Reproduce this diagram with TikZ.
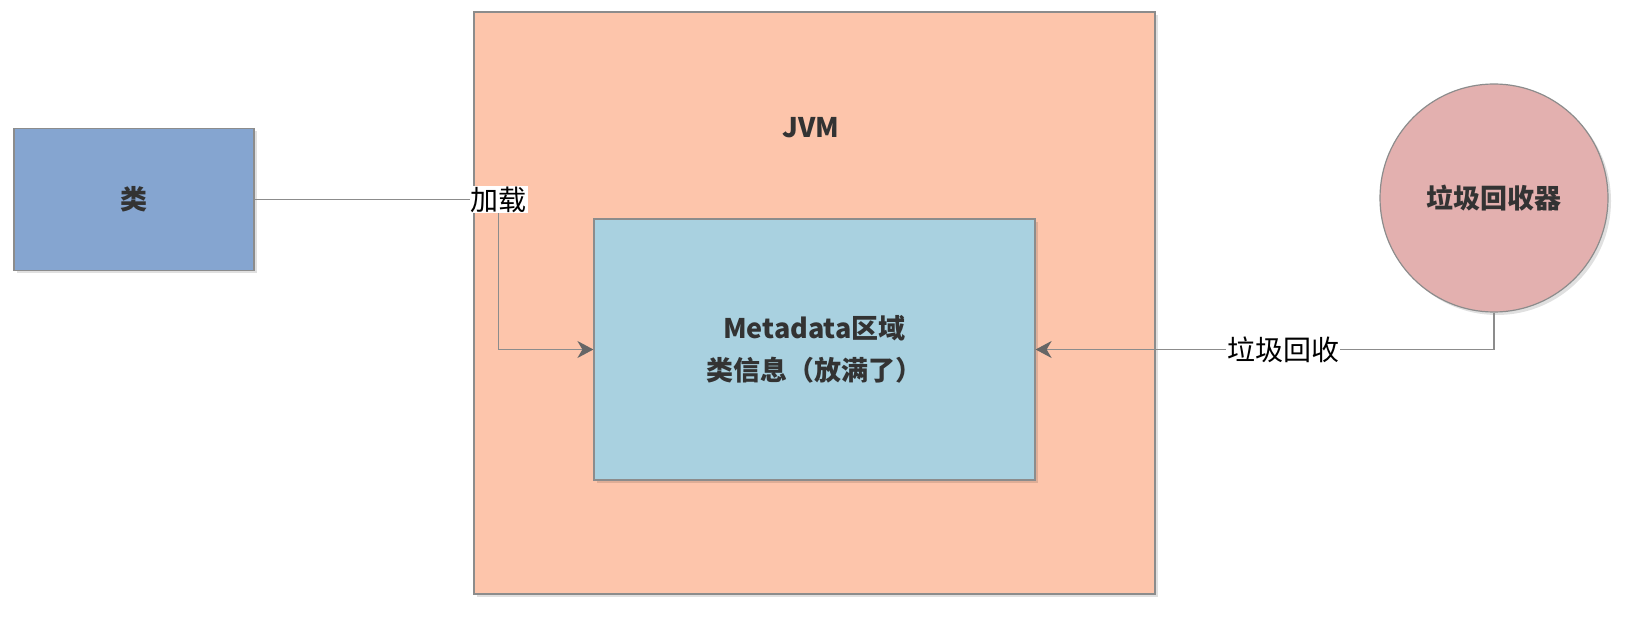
\documentclass[tikz,border=0pt]{standalone}
\usepackage{fontspec}
\setmainfont{Noto Sans CJK SC}
\usetikzlibrary{arrows.meta, positioning, shadows}
\definecolor{clsblue}{HTML}{85A5D0}
\definecolor{jvmpeach}{HTML}{FDC5AB}
\definecolor{metablue}{HTML}{A9D1E0}
\definecolor{gcpink}{HTML}{E3B0AF}
\definecolor{edgegray}{HTML}{8C8C8C}
\definecolor{tipgray}{HTML}{666666}
\definecolor{txtgray}{HTML}{333333}
\tikzset{
  box/.style={draw=edgegray, line width=1.2pt, text=txtgray, align=center,
    font=\fontsize{27}{42}\selectfont\bfseries,
    drop shadow={shadow xshift=3pt, shadow yshift=-3pt, opacity=0.12, fill=black}},
  conn/.style={draw=edgegray, line width=1.5pt,
    -{Stealth[length=16pt, width=17pt, inset=5pt, color=tipgray]}},
  edge_label/.style={fill=white, inner sep=1pt, text=black,
    font=\fontsize{28}{32}\selectfont}
}
\begin{document}
\begin{tikzpicture}[x=1pt, y=1pt]
  \useasboundingbox (0,0) rectangle (1625,619);
  \node[box, fill=clsblue, minimum width=240pt, minimum height=142pt] (class_box) at (134,419.5) {类};
  \node[box, fill=jvmpeach, minimum width=681pt, minimum height=582pt] (jvm) at (814.5,316) {};
  \node[text=txtgray, font=\fontsize{27}{32}\selectfont\bfseries] (jvm_title) at (811,491) {JVM};
  \node[box, fill=metablue, minimum width=441pt, minimum height=261pt] (metadata) at (814.5,269.5)
    {Metadata区域\\类信息（放满了）};
  \node[box, circle, fill=gcpink, minimum size=228pt] (gc) at (1494,421) {垃圾回收器};
  \coordinate (load_bend) at (498.5,269.5);
  \draw[conn] (class_box.east) -| node[edge_label]{加载} (load_bend) -- (metadata.west);
  \draw[conn] (gc.south) |- node[edge_label, pos=0.73]{垃圾回收} (metadata.east);
\end{tikzpicture}
\end{document}
